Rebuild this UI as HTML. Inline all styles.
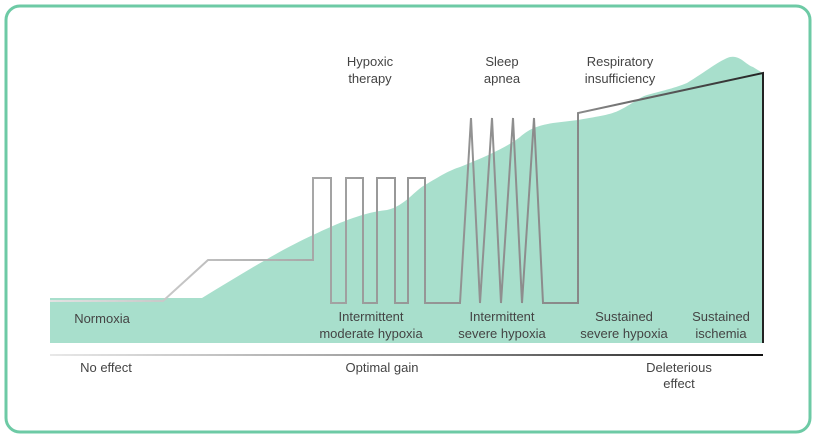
<!DOCTYPE html>
<html><head><meta charset="utf-8"><style>
html,body{margin:0;padding:0;background:#fff;}
svg{display:block;}
text{font-family:"Liberation Sans",sans-serif;font-size:13px;fill:#444;text-anchor:middle;}
</style></head><body>
<svg width="816" height="438" viewBox="0 0 816 438">
<defs>
<linearGradient id="lg" gradientUnits="userSpaceOnUse" x1="50" y1="0" x2="763" y2="0">
<stop offset="0" stop-color="#e2e2e2"/><stop offset="0.45" stop-color="#9a9a9a"/><stop offset="0.75" stop-color="#888"/><stop offset="1" stop-color="#222"/>
</linearGradient>
<linearGradient id="ax" gradientUnits="userSpaceOnUse" x1="50" y1="0" x2="763" y2="0">
<stop offset="0" stop-color="#e8e8e8"/><stop offset="0.5" stop-color="#999"/><stop offset="1" stop-color="#111"/>
</linearGradient>
</defs>
<rect x="6" y="6" width="804" height="426" rx="14" fill="none" stroke="#6dcaa5" stroke-width="3"/>
<path d="M50,298 L202,298 C240,275 280,250 313,235 C340,222 365,212 387,210 C405,206 415,190 425,185 C440,176 450,170 460,167 C490,155 510,145 520,137 C528,130 535,126 553,123 L578,120 C600,116 610,115 620,110 C635,102 640,97 647,95 C665,90 675,88 687,83 C705,72 720,60 730,57 C740,55 745,64 753,67 C758,70 761,72 763,73 L763,343 L50,343 Z" fill="#a8dfcc"/>
<path d="M50,301 L163,301 L208,260 L313,260 L313,178 L331,178 L331,303 L346,303 L346,178 L363,178 L363,303 L377,303 L377,178 L395,178 L395,303 L408,303 L408,178 L425,178 L425,303 L460,303 L471,118 L480,303 L492,118 L501,303 L513,118 L522,303 L534,118 L543,303 L578,303 L578,113 L763,73 L763,343" fill="none" stroke="url(#lg)" stroke-width="2"/>
<line x1="50" y1="355" x2="763" y2="355" stroke="url(#ax)" stroke-width="2"/>
<text x="370" y="66">Hypoxic</text><text x="370" y="83">therapy</text>
<text x="502" y="66">Sleep</text><text x="502" y="83">apnea</text>
<text x="620" y="66">Respiratory</text><text x="620" y="83">insufficiency</text>
<text x="102" y="323">Normoxia</text>
<text x="371" y="321">Intermittent</text><text x="371" y="338">moderate hypoxia</text>
<text x="502" y="321">Intermittent</text><text x="502" y="338">severe hypoxia</text>
<text x="624" y="321">Sustained</text><text x="624" y="338">severe hypoxia</text>
<text x="721" y="321">Sustained</text><text x="721" y="338">ischemia</text>
<text x="106" y="372">No effect</text>
<text x="382" y="372">Optimal gain</text>
<text x="679" y="372">Deleterious</text><text x="679" y="388">effect</text>
</svg>
</body></html>
